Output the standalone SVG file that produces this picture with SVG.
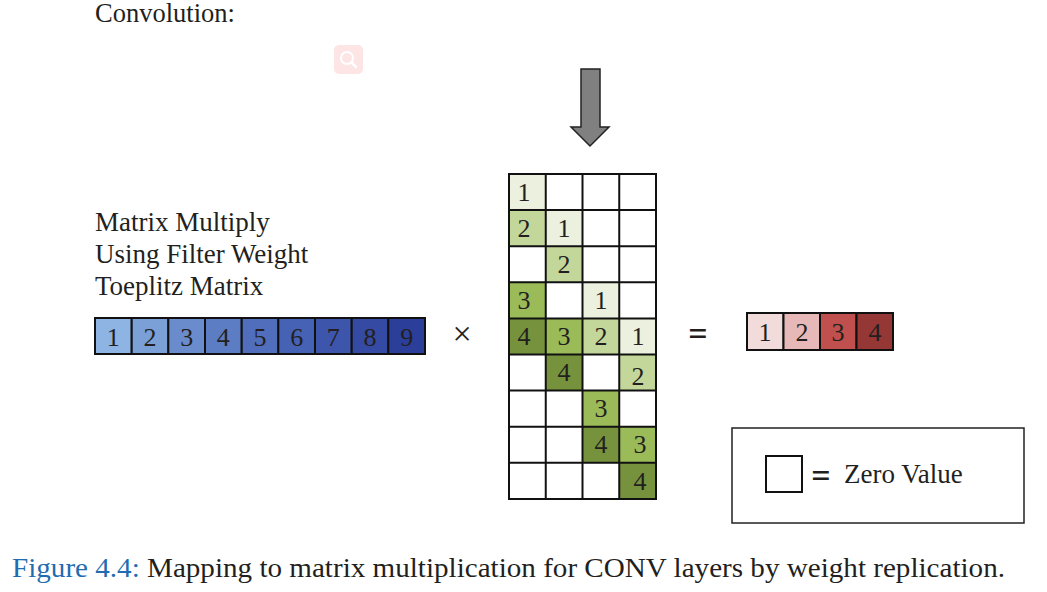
<svg xmlns="http://www.w3.org/2000/svg" width="1047" height="592" viewBox="0 0 1047 592">
<style>
.t{font-family:"Liberation Serif","DejaVu Serif",serif;fill:#231f20}
.lbl{font-size:27px}
.num{font-size:26px;text-anchor:middle}
.cell{stroke:#111;stroke-width:2}
</style>
<rect width="1047" height="592" fill="#fff"/>
<text class="t" x="95" y="22" font-size="26.5">Convolution:</text>
<g id="search-icon">
<rect x="334" y="45" width="29" height="29" rx="5" fill="#fde5e5"/>
<circle cx="347" cy="58" r="6" fill="none" stroke="#fff" stroke-width="2"/>
<line x1="351.5" y1="62.5" x2="356" y2="67" stroke="#fff" stroke-width="2.5" stroke-linecap="round"/>
</g>
<g id="arrow">
<polygon points="581,69 600,69 600,127 609,127 590,146 571,127 581,127" fill="#808080" stroke="#222" stroke-width="1.5"/>
</g>
<g id="label">
<text class="t lbl" x="95" y="231">Matrix Multiply</text>
<text class="t lbl" x="95" y="263">Using Filter Weight</text>
<text class="t lbl" x="95" y="295">Toeplitz Matrix</text>
</g>
<g id="input-vector">
<rect class="cell" x="95" y="318" width="36.7" height="36" fill="#8eb4e3"/>
<rect class="cell" x="131.7" y="318" width="36.7" height="36" fill="#7aa0d7"/>
<rect class="cell" x="168.3" y="318" width="36.7" height="36" fill="#6a8ccc"/>
<rect class="cell" x="205" y="318" width="36.7" height="36" fill="#5c7cc3"/>
<rect class="cell" x="241.7" y="318" width="36.7" height="36" fill="#506ebc"/>
<rect class="cell" x="278.3" y="318" width="36.7" height="36" fill="#4662b4"/>
<rect class="cell" x="315" y="318" width="36.7" height="36" fill="#3d56ac"/>
<rect class="cell" x="351.7" y="318" width="36.7" height="36" fill="#344aa3"/>
<rect class="cell" x="388.3" y="318" width="36.7" height="36" fill="#2b3f9a"/>
<text class="t num" x="113.3" y="346">1</text>
<text class="t num" x="150" y="346">2</text>
<text class="t num" x="186.7" y="346">3</text>
<text class="t num" x="223.3" y="346">4</text>
<text class="t num" x="260" y="346">5</text>
<text class="t num" x="296.7" y="346">6</text>
<text class="t num" x="333.3" y="346">7</text>
<text class="t num" x="370" y="346">8</text>
<text class="t num" x="406.7" y="346">9</text>
</g>
<g id="times"><text class="t" x="462" y="345" font-size="34" text-anchor="middle">×</text></g>
<g id="toeplitz">
<rect x="509" y="174" width="147" height="325" fill="#fff"/>
<g stroke="none">
<rect x="509" y="174" width="36.75" height="36.1" fill="#ebf1de"/>
<rect x="509" y="210.1" width="36.75" height="36.1" fill="#c4d79b"/>
<rect x="545.75" y="210.1" width="36.75" height="36.1" fill="#ebf1de"/>
<rect x="545.75" y="246.2" width="36.75" height="36.1" fill="#c4d79b"/>
<rect x="509" y="282.3" width="36.75" height="36.1" fill="#9bbb59"/>
<rect x="582.5" y="282.3" width="36.75" height="36.1" fill="#ebf1de"/>
<rect x="509" y="318.4" width="36.75" height="36.1" fill="#76923c"/>
<rect x="545.75" y="318.4" width="36.75" height="36.1" fill="#9bbb59"/>
<rect x="582.5" y="318.4" width="36.75" height="36.1" fill="#c4d79b"/>
<rect x="619.25" y="318.4" width="36.75" height="36.1" fill="#ebf1de"/>
<rect x="545.75" y="354.5" width="36.75" height="36.1" fill="#76923c"/>
<rect x="619.25" y="354.5" width="36.75" height="36.1" fill="#c4d79b"/>
<rect x="582.5" y="390.6" width="36.75" height="36.1" fill="#9bbb59"/>
<rect x="582.5" y="426.7" width="36.75" height="36.1" fill="#76923c"/>
<rect x="619.25" y="426.7" width="36.75" height="36.1" fill="#9bbb59"/>
<rect x="619.25" y="462.8" width="36.75" height="36.2" fill="#76923c"/>
</g>
<g stroke="#111" stroke-width="2" fill="none">
<rect x="509" y="174" width="147" height="325"/>
<line x1="545.75" y1="174" x2="545.75" y2="499"/>
<line x1="582.5" y1="174" x2="582.5" y2="499"/>
<line x1="619.25" y1="174" x2="619.25" y2="499"/>
<line x1="509" y1="210.1" x2="656" y2="210.1"/>
<line x1="509" y1="246.2" x2="656" y2="246.2"/>
<line x1="509" y1="282.3" x2="656" y2="282.3"/>
<line x1="509" y1="318.4" x2="656" y2="318.4"/>
<line x1="509" y1="354.5" x2="656" y2="354.5"/>
<line x1="509" y1="390.6" x2="656" y2="390.6"/>
<line x1="509" y1="426.7" x2="656" y2="426.7"/>
<line x1="509" y1="462.8" x2="656" y2="462.8"/>
</g>
<text class="t num" x="524" y="201">1</text>
<text class="t num" x="524" y="237">2</text>
<text class="t num" x="564" y="237">1</text>
<text class="t num" x="564" y="273">2</text>
<text class="t num" x="524" y="309">3</text>
<text class="t num" x="601" y="309">1</text>
<text class="t num" x="524" y="345">4</text>
<text class="t num" x="564" y="345">3</text>
<text class="t num" x="601" y="345">2</text>
<text class="t num" x="638" y="345">1</text>
<text class="t num" x="564" y="381">4</text>
<text class="t num" x="638" y="385">2</text>
<text class="t num" x="601" y="417">3</text>
<text class="t num" x="601" y="453">4</text>
<text class="t num" x="640" y="453">3</text>
<text class="t num" x="640" y="490">4</text>
</g>
<g id="equals"><text class="t" x="698" y="345" font-size="34" font-weight="bold" text-anchor="middle">=</text></g>
<g id="output-vector">
<rect class="cell" x="747" y="313" width="36.5" height="37" fill="#f2dcdb"/>
<rect class="cell" x="783.5" y="313" width="36.5" height="37" fill="#e6b9b8"/>
<rect class="cell" x="820" y="313" width="36.5" height="37" fill="#c0504d"/>
<rect class="cell" x="856.5" y="313" width="36.5" height="37" fill="#953735"/>
<text class="t num" x="765" y="341">1</text>
<text class="t num" x="802" y="341">2</text>
<text class="t num" x="838" y="341">3</text>
<text class="t num" x="875" y="341">4</text>
</g>
<g id="legend">
<rect x="732" y="428" width="292" height="95" fill="#fff" stroke="#222" stroke-width="1.5"/>
<rect x="766" y="456" width="36" height="36" fill="#fff" stroke="#111" stroke-width="2"/>
<text class="t" x="821" y="487" font-size="34" font-weight="bold" text-anchor="middle">=</text>
<text class="t" x="844" y="483" font-size="27">Zero Value</text>
</g>
<g id="caption">
<text class="t" x="12" y="577" font-size="27" textLength="993" lengthAdjust="spacingAndGlyphs"><tspan fill="#1f6cb0">Figure 4.4:</tspan> Mapping to matrix multiplication for CONV layers by weight replication.</text>
</g>
</svg>
